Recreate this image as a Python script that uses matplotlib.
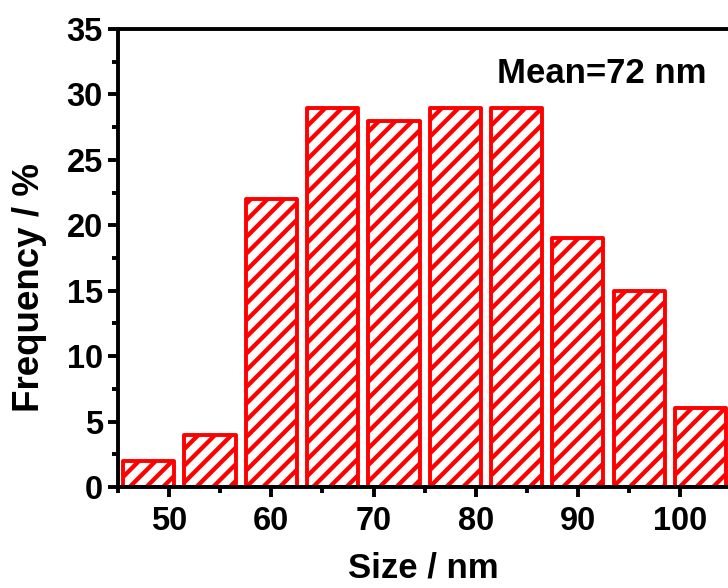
import matplotlib
matplotlib.use("Agg")
import matplotlib.pyplot as plt
from matplotlib.ticker import MultipleLocator

sizes = [48, 54, 60, 66, 72, 78, 84, 90, 96, 102]
freq = [2, 4, 22, 29, 28, 29, 29, 19, 15, 6]
xticks = [50, 60, 70, 80, 90, 100]
yticks = [0, 5, 10, 15, 20, 25, 30, 35]

plt.rcParams['font.family'] = ['Liberation Sans', 'DejaVu Sans']
plt.rcParams['font.weight'] = 'bold'
plt.rcParams['hatch.color'] = '#FF0000'
plt.rcParams['hatch.linewidth'] = 3.1

fig = plt.figure(figsize=(7.28, 5.88), dpi=100)
W, H = 728, 588
left, right, top, bottom = 118, 743, 29, 487
ax = fig.add_axes([left / W, (H - bottom) / H, (right - left) / W, (bottom - top) / H])

ax.bar(sizes, freq, width=5.0, facecolor='white', edgecolor='#FF0000',
       linewidth=2.8, hatch='//', joinstyle='round', zorder=2)

ax.set_xlim(45, 106.15)
ax.set_ylim(0, 35)
ax.set_xticks(xticks)
ax.set_yticks(yticks)
ax.xaxis.set_minor_locator(MultipleLocator(5))
ax.yaxis.set_minor_locator(MultipleLocator(2.5))

for s in ax.spines.values():
    s.set_linewidth(2.8)
ax.tick_params(axis='both', which='major', direction='out', length=7, width=2.8,
               labelsize=23.5, pad=4)
ax.tick_params(axis='x', which='major', pad=7)
ax.tick_params(axis='both', which='minor', direction='out', length=4, width=2.8)
ax.tick_params(top=False, right=False)
for lab in ax.get_xticklabels() + ax.get_yticklabels():
    lab.set_fontweight('bold')

ax.text(82.1, 30.9, 'Mean=72 nm', fontsize=25, fontweight='bold', ha='left', va='baseline')

fig.text(423 / W, (H - 577) / H, 'Size / nm', fontsize=25, fontweight='bold',
         ha='center', va='baseline')
fig.text(30 / W, (H - 288) / H, 'Frequency / %', fontsize=26.5, fontweight='bold',
         ha='center', va='center', rotation=90)

fig.savefig('out.png', dpi=100)
